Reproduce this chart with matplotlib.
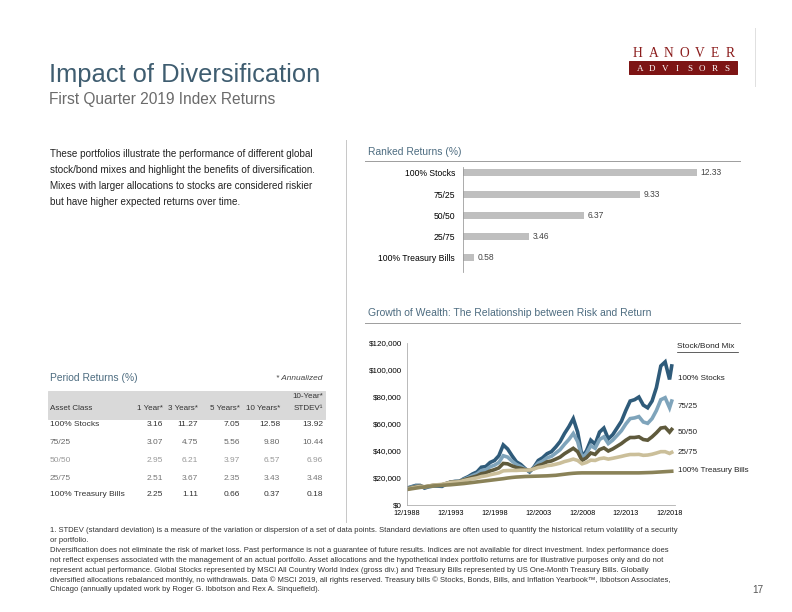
import matplotlib
matplotlib.use("Agg")
import matplotlib.pyplot as plt
import matplotlib.patches as patches
import numpy as np
import pandas as pd

plt.rcParams['font.family'] = ['Liberation Sans', 'DejaVu Sans']

# ----- data -----
ranked_labels = ["100% Stocks", "75/25", "50/50", "25/75", "100% Treasury Bills"]
ranked_values = [12.33, 9.33, 6.37, 3.46, 0.58]

table_header = ["Asset Class", "1 Year*", "3 Years*", "5 Years*", "10 Years*", "10-Year*\nSTDEV\u00b9"]
table_rows = ["100% Stocks", "75/25", "50/50", "25/75", "100% Treasury Bills"]
table_values = [
    [3.16, 11.27, 7.05, 12.58, 13.92],
    [3.07, 4.75, 5.56, 9.80, 10.44],
    [2.95, 6.21, 3.97, 6.57, 6.96],
    [2.51, 3.67, 2.35, 3.43, 3.48],
    [2.25, 1.11, 0.66, 0.37, 0.18],
]

# semi-annual points 12/1988 .. 12/2018, then 3/2019 (values in $1,000)
dates = list(pd.date_range("1988-12-31", periods=61, freq="6ME")) + [pd.Timestamp("2019-03-31")]
stocks = [12.5, 13.5, 14.5, 14.5, 12.5, 13.5, 14.0, 14.0, 13.8, 15.5, 17.0, 17.5, 17.5, 19.5, 21.0, 23.0,
          24.5, 28.0, 28.5, 31.5, 33.0, 36.5, 44.5, 41.5, 36.5, 32.0, 30.0, 27.0, 24.5, 28.0, 33.0, 35.0,
          38.0, 39.5, 43.0, 47.0, 53.0, 58.0, 64.0, 54.0, 36.0, 40.0, 48.0, 45.0, 54.0, 57.0, 49.0, 52.0,
          57.0, 62.0, 70.0, 77.0, 78.0, 80.0, 74.0, 72.0, 77.0, 87.0, 103.0, 106.0, 93.0, 103.0]
mix_75 = [12.3, 13.2, 14.0, 14.2, 13.0, 13.8, 14.3, 14.5, 14.5, 15.8, 17.0, 17.3, 17.5, 19.0, 20.3, 21.8,
          23.0, 25.5, 26.0, 28.3, 29.5, 31.5, 36.5, 35.5, 32.5, 30.0, 28.5, 26.5, 25.0, 27.5, 31.0, 32.5,
          35.0, 36.0, 38.5, 41.0, 45.0, 48.5, 53.0, 47.0, 35.0, 38.0, 44.0, 42.0, 48.5, 50.5, 45.5, 48.0,
          51.5, 55.0, 60.0, 64.0, 64.5, 65.5, 61.5, 60.5, 64.0, 70.0, 78.0, 79.5, 72.0, 77.0]
mix_50 = [12.0, 12.8, 13.6, 14.0, 13.4, 14.0, 14.6, 14.8, 15.0, 16.0, 17.0, 17.2, 17.4, 18.6, 19.6, 20.6,
          21.5, 23.2, 23.8, 25.2, 26.2, 27.5, 30.8, 30.5, 29.0, 27.8, 27.2, 26.2, 25.5, 27.0, 29.2, 30.2,
          32.0, 32.6, 34.0, 35.5, 38.0, 40.0, 42.0, 39.5, 33.0, 35.0, 38.5, 37.5, 41.0, 42.3, 40.0, 41.5,
          43.5, 45.5, 48.0, 50.0, 50.0, 50.5, 48.5, 48.0, 50.5, 53.5, 57.0, 57.5, 54.0, 56.0]
mix_25 = [11.8, 12.5, 13.2, 13.7, 13.6, 14.1, 14.7, 15.0, 15.3, 16.0, 16.8, 17.0, 17.2, 18.1, 18.8, 19.5,
          20.1, 21.1, 21.6, 22.4, 23.1, 23.8, 25.3, 25.5, 25.6, 25.6, 25.8, 25.8, 25.9, 26.7, 27.8, 28.3,
          29.2, 29.5, 30.2, 31.0, 32.2, 33.0, 34.0, 33.0, 30.5, 31.5, 33.2, 33.0, 34.3, 34.8, 34.0, 34.6,
          35.3, 36.0, 36.8, 37.4, 37.4, 37.5, 36.8, 37.0, 37.6, 38.5, 39.5, 39.5, 38.2, 39.0]
tbills = [11.5, 12.0, 12.5, 13.0, 13.4, 13.8, 14.1, 14.4, 14.6, 14.8, 15.0, 15.3, 15.6, 15.9, 16.3, 16.7,
          17.1, 17.5, 17.9, 18.3, 18.7, 19.1, 19.5, 20.0, 20.4, 20.7, 20.9, 21.1, 21.2, 21.3, 21.4, 21.5,
          21.6, 21.8, 22.0, 22.4, 22.8, 23.2, 23.5, 23.7, 23.8, 23.8, 23.8, 23.8, 23.8, 23.8, 23.8, 23.8,
          23.8, 23.8, 23.8, 23.8, 23.8, 23.8, 23.9, 24.0, 24.1, 24.3, 24.5, 24.7, 24.9, 25.0]
growth_series = [
    ("100% Stocks", stocks, "#2f5b7a"),
    ("75/25", mix_75, "#7fa4bb"),
    ("50/50", mix_50, "#5f5a3c"),
    ("25/75", mix_25, "#cbbf9a"),
    ("100% Treasury Bills", tbills, "#8a8258"),
]
growth_label_y = [378, 407, 432, 453, 470]
x_ticks = ["1988-12-31", "1993-12-31", "1998-12-31", "2003-12-31", "2008-12-31", "2013-12-31", "2018-12-31"]

# ----- figure, laid out in pixels -----
W, H = 792, 612
fig = plt.figure(figsize=(W / 72, H / 72), dpi=72)


def fx(x):
    return x / W


def fy(y):
    return 1 - y / H


def axes_px(left, top, right, bottom):
    return fig.add_axes([fx(left), fy(bottom), (right - left) / W, (bottom - top) / H])


def line_px(x0, y0, x1, y1, color="#bdbdbd", lw=1):
    fig.add_artist(plt.Line2D([fx(x0), fx(x1)], [fy(y0), fy(y1)], color=color, lw=lw,
                              transform=fig.transFigure))


title_col = "#3f5d70"
head_col = "#4d6c80"

fig.text(fx(49), fy(82), "Impact of Diversification", fontsize=25.5, color=title_col, va="baseline")
fig.text(fx(49), fy(104), "First Quarter 2019 Index Returns", fontsize=15.5, color="#6b6b6b", va="baseline")

# logo
for i, ch in enumerate("HANOVER"):
    fig.text(fx(np.linspace(638, 730, 7)[i]), fy(57), ch, fontsize=13.5, color="#8b1c1c",
             family="Liberation Serif", ha="center", va="baseline")
fig.add_artist(patches.Rectangle((fx(629), fy(73.5)), 108 / W, 12.5 / H, color="#7d1414",
                                 transform=fig.transFigure))
for i, ch in enumerate("ADVISORS"):
    fig.text(fx(np.linspace(640, 727, 8)[i]), fy(71), ch, fontsize=9, color="white",
             family="Liberation Serif", ha="center", va="baseline")
line_px(755, 28, 755, 86, color="#e0e0e0")

# divider
line_px(346, 140, 346, 522, color="#c8c8c8")

# intro text
intro = ["These portfolios illustrate the performance of different global",
         "stock/bond mixes and highlight the benefits of diversification.",
         "Mixes with larger allocations to stocks are considered riskier",
         "but have higher expected returns over time."]
for i, s in enumerate(intro):
    fig.text(fx(50), fy(154 + i * 16), s, fontsize=9.9, color="#222222", va="center")

# ----- ranked returns -----
fig.text(fx(368), fy(152), "Ranked Returns (%)", fontsize=10.3, color=head_col, va="center")
line_px(365, 161, 740, 161, color="#a0a0a0")
ax1 = axes_px(463, 167, 719, 272)
ypos = np.arange(len(ranked_values))
ax1.barh(ypos, ranked_values, height=0.33, color="#bfbfbf")
for y, v in zip(ypos, ranked_values):
    ax1.text(v + 0.2, y, f"{v:.2f}", fontsize=8.5, color="#444444", va="center")
ax1.set_xlim(0, 13.5)
ax1.set_ylim(4.66, -0.28)
ax1.set_yticks(ypos)
ax1.set_yticklabels(ranked_labels, fontsize=8.6)
ax1.tick_params(axis="y", length=0, pad=8)
ax1.set_xticks([])
for s in ["top", "right", "bottom"]:
    ax1.spines[s].set_visible(False)
ax1.spines["left"].set_color("#999999")

# ----- growth of wealth -----
fig.text(fx(368), fy(313), "Growth of Wealth: The Relationship between Risk and Return", fontsize=10.4,
         color=head_col, va="center")
line_px(365, 323, 740, 323, color="#a0a0a0")
ax2 = axes_px(407, 343, 675, 505)
for name, vals, col in growth_series:
    ax2.plot(dates, np.array(vals) * 1000, color=col, lw=3.6, solid_joinstyle="miter")
ax2.set_ylim(0, 120000)
ax2.set_xlim(pd.Timestamp("1988-12-31"), pd.Timestamp("2019-08-15"))
ax2.set_yticks(range(0, 120001, 20000))
ax2.set_yticklabels([f"${v:,}" for v in range(0, 120001, 20000)], fontsize=8)
ax2.set_xticks(pd.to_datetime(x_ticks))
ax2.set_xticklabels([d[5:7] + "/" + d[:4] for d in x_ticks], fontsize=7.2)
ax2.tick_params(length=0, pad=5)
for s in ["top", "right"]:
    ax2.spines[s].set_visible(False)
for s in ["left", "bottom"]:
    ax2.spines[s].set_color("#aaaaaa")

fig.text(fx(677), fy(347), "Stock/Bond Mix", fontsize=8.2, color="#222222", va="center")
line_px(677, 352, 738, 352, color="#222222", lw=0.7)
for (name, vals, col), y in zip(growth_series, growth_label_y):
    fig.text(fx(678), fy(y), name, fontsize=8, color="#222222", va="center")

# ----- period returns table -----
fig.text(fx(50), fy(378), "Period Returns (%)", fontsize=10.3, color=head_col, va="center")
fig.text(fx(322), fy(378), "* Annualized", fontsize=8.3, color="#444444", style="italic",
         ha="right", va="center")
fig.add_artist(patches.Rectangle((fx(48), fy(419)), 277 / W, 28 / H, color="#d9d9d9",
                                 transform=fig.transFigure))
col_right = [163, 198, 240, 280, 323]
fig.text(fx(50), fy(408), table_header[0], fontsize=8, color="#333333", va="center")
for x, h in zip(col_right, table_header[1:]):
    lines = h.split("\n")
    for k, part in enumerate(reversed(lines)):
        fig.text(fx(x), fy(408 - k * 11), part, fontsize=8, color="#333333", ha="right", va="center")
row_y = [425, 443, 461, 478, 495]
row_col = ["#333333", "#666666", "#999999", "#777777", "#333333"]
for name, vals, y, c in zip(table_rows, table_values, row_y, row_col):
    fig.text(fx(50), fy(y), name, fontsize=8.4, color=c, va="center")
    for x, v in zip(col_right, vals):
        fig.text(fx(x), fy(y), f"{v:.2f}", fontsize=8.4, color=c, ha="right", va="center")

# ----- footnotes -----
notes = [
    "1. STDEV (standard deviation) is a measure of the variation or dispersion of a set of data points. Standard deviations are often used to quantify the historical return volatility of a security",
    "or portfolio.",
    "Diversification does not eliminate the risk of market loss. Past performance is not a guarantee of future results. Indices are not available for direct investment. Index performance does",
    "not reflect expenses associated with the management of an actual portfolio. Asset allocations and the hypothetical index portfolio returns are for illustrative purposes only and do not",
    "represent actual performance. Global Stocks represented by MSCI All Country World Index (gross div.) and Treasury Bills represented by US One-Month Treasury Bills. Globally",
    "diversified allocations rebalanced monthly, no withdrawals. Data \u00a9 MSCI 2019, all rights reserved. Treasury bills \u00a9 Stocks, Bonds, Bills, and Inflation Yearbook\u2122, Ibbotson Associates,",
    "Chicago (annually updated work by Roger G. Ibbotson and Rex A. Sinquefield).",
]
for i, s in enumerate(notes):
    fig.text(fx(50), fy(531 + i * 9.8), s, fontsize=7.6, color="#333333", va="center")
fig.text(fx(752), fy(590), "17", fontsize=10, color="#555555", va="center")

fig.savefig("out.png", dpi=72)
